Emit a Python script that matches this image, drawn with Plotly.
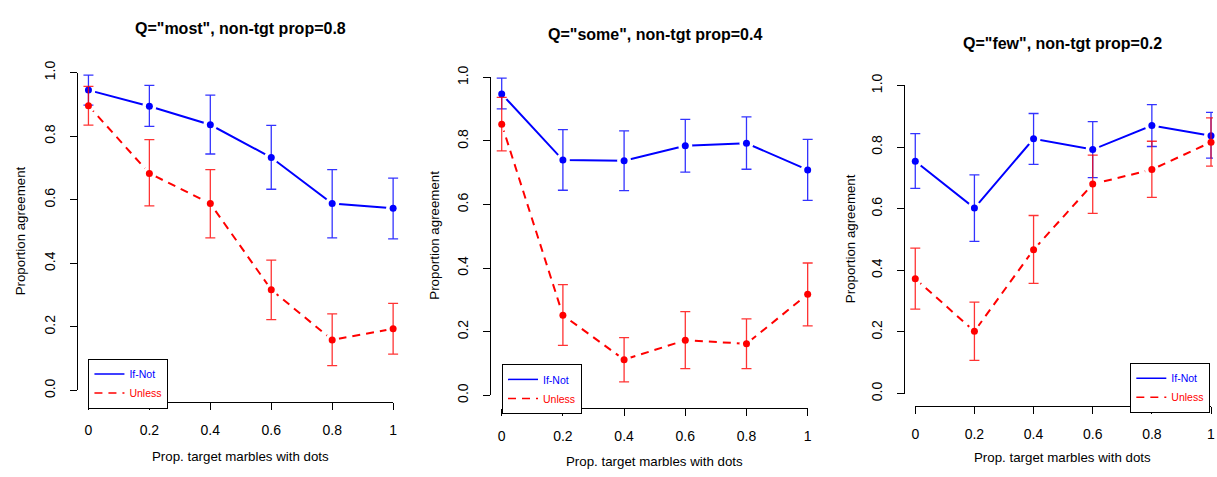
import plotly.graph_objects as go
import numpy as np

W, H = 1217, 477

x_vals = [0, 0.2, 0.4, 0.6, 0.8, 1]
x_ticktext = ["0", "0.2", "0.4", "0.6", "0.8", "1"]
y_tickvals = [0, 0.2, 0.4, 0.6, 0.8, 1.0]
y_ticktext = ["0.0", "0.2", "0.4", "0.6", "0.8", "1.0"]

titles = ['Q="most", non-tgt prop=0.8', 'Q="some", non-tgt prop=0.4', 'Q="few", non-tgt prop=0.2']
x_title = "Prop. target marbles with dots"
y_title = "Proportion agreement"
series_names = ["If-Not", "Unless"]

# Panel 1: Q="most"
most_ifnot = [0.945, 0.894, 0.836, 0.733, 0.588, 0.573]
most_ifnot_hi = [0.992, 0.960, 0.929, 0.834, 0.695, 0.668]
most_ifnot_lo = [0.898, 0.831, 0.744, 0.633, 0.480, 0.477]
most_unless = [0.896, 0.683, 0.588, 0.317, 0.159, 0.194]
most_unless_hi = [0.957, 0.789, 0.695, 0.410, 0.241, 0.274]
most_unless_lo = [0.835, 0.581, 0.480, 0.223, 0.078, 0.114]

# Panel 2: Q="some"
some_ifnot = [0.948, 0.740, 0.738, 0.785, 0.793, 0.709]
some_ifnot_hi = [0.998, 0.836, 0.832, 0.868, 0.876, 0.805]
some_ifnot_lo = [0.901, 0.645, 0.644, 0.702, 0.711, 0.613]
some_unless = [0.853, 0.252, 0.112, 0.173, 0.162, 0.318]
some_unless_hi = [0.937, 0.348, 0.181, 0.263, 0.240, 0.416]
some_unless_lo = [0.769, 0.157, 0.042, 0.084, 0.084, 0.218]

# Panel 3: Q="few"
few_ifnot = [0.754, 0.602, 0.827, 0.792, 0.870, 0.837]
few_ifnot_hi = [0.844, 0.710, 0.909, 0.883, 0.938, 0.913]
few_ifnot_lo = [0.666, 0.494, 0.744, 0.701, 0.802, 0.764]
few_unless = [0.373, 0.202, 0.467, 0.680, 0.727, 0.816]
few_unless_hi = [0.472, 0.297, 0.578, 0.774, 0.819, 0.895]
few_unless_lo = [0.274, 0.108, 0.358, 0.585, 0.637, 0.738]

panel_data = [
    [(most_ifnot, most_ifnot_hi, most_ifnot_lo), (most_unless, most_unless_hi, most_unless_lo)],
    [(some_ifnot, some_ifnot_hi, some_ifnot_lo), (some_unless, some_unless_hi, some_unless_lo)],
    [(few_ifnot, few_ifnot_hi, few_ifnot_lo), (few_unless, few_unless_hi, few_unless_lo)],
]

# layout geometry (pixels) of each panel
geom = [
    dict(x0=85, x1=391.7, y0=395, y1=63.3, yline=73, xline=407,
         title=(238, 17), xt=(238, 464), yt=(17, 228), leg=(85, 361.7, "left")),
    dict(x0=501, x1=809, y0=400, y1=68.3, yline=489.3, xline=413.3,
         title=(655, 23.3), xt=(655, 469), yt=(433.3, 233), leg=(501.3, 367.3, "left")),
    dict(x0=917.3, x1=1215, y0=398.3, y1=76.7, yline=906, xline=411.7,
         title=(1066, 33.3), xt=(1066, 465), yt=(851.7, 237), leg=(1214.3, 366, "right")),
]

colors = ["#0000FF", "#FF0000"]
err_colors = ["rgba(0,0,255,0.8)", "rgba(255,0,0,0.8)"]
dashes = ["solid", "8px,6px"]
FONT = "Liberation Sans, Arial, sans-serif"
TICK_SIZE = 14

fig = go.Figure()
layout = dict(width=W, height=H, margin=dict(l=0, r=0, t=0, b=0),
              paper_bgcolor="white", plot_bgcolor="rgba(0,0,0,0)", showlegend=True,
              font=dict(family=FONT, color="black"))
annotations = []

for i, g in enumerate(geom):
    n = i + 1
    dn = i + 4
    xa = "xaxis" if n == 1 else f"xaxis{n}"
    ya = "yaxis" if n == 1 else f"yaxis{n}"
    xr = "x" if n == 1 else f"x{n}"
    yr = "y" if n == 1 else f"y{n}"
    wpx = g["x1"] - g["x0"]
    hpx = g["y0"] - g["y1"]
    # decoration axes (R-style detached axes)
    layout[f"xaxis{dn}"] = dict(domain=[g["x0"] / W, g["x1"] / W], range=[0, 1],
                                anchor="free", position=1 - g["xline"] / H,
                                showline=True, linecolor="black", linewidth=1,
                                ticks="outside", ticklen=7, tickcolor="black", tickwidth=1,
                                tickvals=x_vals, ticktext=x_ticktext, ticklabelstandoff=8,
                                tickfont=dict(size=TICK_SIZE, family=FONT, color="black"),
                                showgrid=False, zeroline=False, fixedrange=True)
    layout[f"yaxis{dn}"] = dict(domain=[1 - g["y0"] / H, 1 - g["y1"] / H], range=[0, 1],
                                anchor="free", position=g["yline"] / W,
                                showline=True, linecolor="black", linewidth=1,
                                ticks="outside", ticklen=7, tickcolor="black", tickwidth=1,
                                tickvals=y_tickvals, ticktext=y_ticktext, tickangle=-90,
                                ticklabelstandoff=9,
                                tickfont=dict(size=TICK_SIZE, family=FONT, color="black"),
                                showgrid=False, zeroline=False, fixedrange=True)
    fig.add_trace(go.Scatter(x=[None], y=[None], xaxis=f"x{dn}", yaxis=f"y{dn}",
                             showlegend=False, hoverinfo="skip"))

    # data axes (invisible), extended 4% like R
    lpx = max(0, g["x0"] - 0.04 * wpx)
    rpx = min(W, g["x1"] + 0.04 * wpx)
    bpx = min(H, g["y0"] + 0.04 * hpx)
    tpx = max(0, g["y1"] - 0.04 * hpx)
    layout[xa] = dict(domain=[lpx / W, rpx / W],
                      range=[(lpx - g["x0"]) / wpx, (rpx - g["x0"]) / wpx],
                      visible=False, anchor=yr, fixedrange=True)
    layout[ya] = dict(domain=[1 - bpx / H, 1 - tpx / H],
                      range=[(g["y0"] - bpx) / hpx, (g["y0"] - tpx) / hpx],
                      visible=False, anchor=xr, fixedrange=True)

    # connecting lines, with small gaps around the points (R type="b")
    for s, (mean, hi, lo) in enumerate(panel_data[i]):
        fig.add_trace(go.Scatter(
            x=x_vals, y=mean, mode="lines+markers",
            xaxis=xr, yaxis=yr,
            line=dict(color=colors[s], width=2, dash=dashes[s]),
            marker=dict(color="white", size=14, line=dict(width=0)),
            showlegend=False, hoverinfo="skip", cliponaxis=False))
    # points with error bars
    for s, (mean, hi, lo) in enumerate(panel_data[i]):
        mean_a = np.array(mean)
        fig.add_trace(go.Scatter(
            x=x_vals, y=mean, mode="markers",
            xaxis=xr, yaxis=yr,
            marker=dict(color=colors[s], size=7),
            error_y=dict(type="data", symmetric=False,
                         array=list(np.array(hi) - mean_a),
                         arrayminus=list(mean_a - np.array(lo)),
                         color=err_colors[s], thickness=1.3, width=5),
            showlegend=False, hoverinfo="skip", cliponaxis=False))

    leg_id = "legend" if n == 1 else f"legend{n}"
    for s in range(2):
        fig.add_trace(go.Scatter(
            x=[None], y=[None], mode="lines", xaxis=xr, yaxis=yr,
            line=dict(color=colors[s], width=1.5, dash=dashes[s]),
            name=f'<span style="color:{colors[s]}">{series_names[s]}</span>',
            legend=leg_id, showlegend=True))
    lx, ly, anch = g["leg"]
    layout[leg_id] = dict(x=lx / W, y=1 - ly / H, xanchor=anch, yanchor="top",
                          xref="paper", yref="paper",
                          bordercolor="black", borderwidth=1, bgcolor="white",
                          font=dict(size=10.5, family=FONT), tracegroupgap=0,
                          itemwidth=30)

    annotations.append(dict(text=f"<b>{titles[i]}</b>", x=g["title"][0] / W, y=1 - g["title"][1] / H,
                            xref="paper", yref="paper", showarrow=False,
                            xanchor="center", yanchor="middle",
                            font=dict(size=16, family=FONT, color="black")))
    annotations.append(dict(text=x_title, x=g["xt"][0] / W, y=1 - g["xt"][1] / H,
                            xref="paper", yref="paper", showarrow=False,
                            xanchor="center", yanchor="middle",
                            font=dict(size=13.3, family=FONT, color="black")))
    annotations.append(dict(text=y_title, x=g["yt"][0] / W, y=1 - g["yt"][1] / H,
                            xref="paper", yref="paper", showarrow=False, textangle=-90,
                            xanchor="center", yanchor="middle",
                            font=dict(size=13.3, family=FONT, color="black")))

layout["annotations"] = annotations
fig.update_layout(**layout)
fig.write_html("out.html")
